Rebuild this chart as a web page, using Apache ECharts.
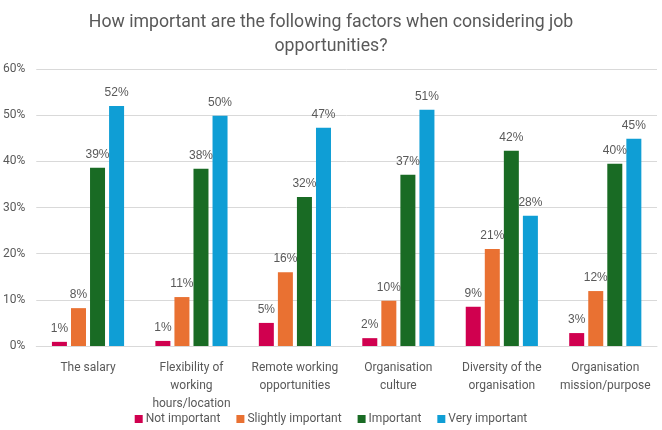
<!DOCTYPE html>
<html>
<head>
<meta charset="utf-8">
<script src="https://cdn.jsdelivr.net/npm/echarts@6/dist/echarts.min.js"></script>
<style>html,body{margin:0;padding:0;background:#fff;}#c{width:662px;height:430px;}</style>
</head>
<body>
<div id="c"></div>
<script>
const categories = ["The salary", "Flexibility of\nworking\nhours/location", "Remote working\nopportunities", "Organisation\nculture", "Diversity of the\norganisation", "Organisation\nmission/purpose"];
const seriesNames = ["Not important", "Slightly important", "Important", "Very important"];
const notImportant = [0.9, 1.1, 5.0, 1.7, 8.5, 2.8];
const slightlyImportant = [8.2, 10.6, 16.0, 9.8, 21.0, 11.9];
const important = [38.6, 38.4, 32.3, 37.1, 42.3, 39.5];
const veryImportant = [52.0, 49.9, 47.3, 51.2, 28.2, 44.9];
const yTicks = [0, 10, 20, 30, 40, 50, 60];

const colors = ["#D0004F", "#E97132", "#196B24", "#0F9ED5"];
const allData = [notImportant, slightlyImportant, important, veryImportant];

const chart = echarts.init(document.getElementById('c'), null, {renderer: 'canvas'});
chart.setOption({
  animation: false,
  title: {
    text: "How important are the following factors when considering job\nopportunities?",
    left: 'center', top: 6,
    textStyle: {fontFamily: 'Roboto', fontSize: 17.7, fontWeight: 'normal', color: '#595959', lineHeight: 24}
  },
  legend: {
    top: 408, left: 'center',
    itemWidth: 8, itemHeight: 8, itemGap: 16,
    icon: 'rect',
    textStyle: {fontFamily: 'Roboto', fontSize: 12, color: '#595959', padding: [0, 0, 0, -2]},
    data: seriesNames
  },
  grid: {left: 36, right: 5, top: 69, bottom: 84, containLabel: false},
  xAxis: {
    type: 'category', data: categories,
    axisLine: {lineStyle: {color: '#D9D9D9'}},
    axisTick: {show: false},
    axisLabel: {fontFamily: 'Roboto', fontSize: 12, color: '#595959', lineHeight: 18, margin: 13, interval: 0}
  },
  yAxis: {
    type: 'value', min: yTicks[0], max: yTicks[yTicks.length - 1], interval: 10,
    axisLine: {show: false}, axisTick: {show: false},
    splitLine: {lineStyle: {color: '#D9D9D9'}},
    axisLabel: {fontFamily: 'Roboto', fontSize: 12, color: '#595959', margin: 11, formatter: v => v + '%'}
  },
  series: seriesNames.map((n, i) => ({
    name: n, type: 'bar', data: allData[i],
    barWidth: 15, barGap: '27%',
    itemStyle: {color: colors[i]},
    label: {show: true, position: 'top', distance: 7, fontFamily: 'Liberation Sans', fontSize: 12, color: '#595959',
      formatter: p => Math.round(p.value) + '%'}
  }))
});
</script>
</body>
</html>
